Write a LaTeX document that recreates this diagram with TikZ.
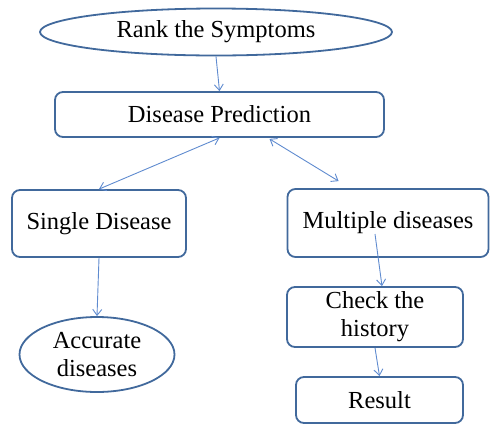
\documentclass[tikz,border=0pt]{standalone}
\usepackage{fontspec}
\setmainfont{Liberation Serif}
\usetikzlibrary{shapes.geometric, arrows.meta, calc}
\definecolor{edge}{HTML}{41699C}
\definecolor{link}{HTML}{5F8BCF}
\tikzset{
	box/.style={draw=edge, line width=1.8pt, rounded corners=8pt, inner sep=0pt, align=center},
	oval/.style={draw=edge, line width=1.8pt, ellipse, inner sep=0pt, align=center},
	flow/.style={draw=link, line width=0.9pt, >={Straight Barb[length=6pt, width=9pt]}},
}
\begin{document}
\begin{tikzpicture}[x=1pt, y=-1pt, font=\fontsize{24.5}{28}\selectfont]
	\useasboundingbox (0, 0) rectangle (490, 424);
	%top
	\node[oval, minimum width=352, minimum height=47] (R) at (216, 32) {Rank the Symptoms};
	\node[box, minimum width=329, minimum height=45] (P) at (219.5, 114.5) {Disease Prediction};
	%left
	\node[box, minimum width=174, minimum height=67] (S) at (99, 223.5) {Single Disease};
	\node[oval, minimum width=155, minimum height=75] (A) at (97, 354.5) {Accurate\\diseases};
	%right
	\node[box, minimum width=201, minimum height=68] (M) at (388, 223) {Multiple diseases};
	\node[box, minimum width=176, minimum height=60] (H) at (375, 317) {Check the\\history};
	\node[box, minimum width=167, minimum height=46] (E) at (379.5, 400) {Result};
	%arrows
	\path (M.center)++(-13, 11) coordinate (Mt);
	\path (H.north)++(7, 0) coordinate (Hn);
	\path (P.south)++(50, 1) coordinate (Pr);
	\path (M.north west)++(52, -7) coordinate (Mn);
	\draw[flow, ->] (R.south) -- (P.north);
	\draw[flow, <->] (P.south) -- (S.north);
	\draw[flow, <->] (Pr) -- (Mn);
	\draw[flow, ->] (S.south) -- (A.north);
	\draw[flow, ->] (Mt) -- (Hn);
	\draw[flow, ->] (H.south) -- (E.north);
\end{tikzpicture}
\end{document}
